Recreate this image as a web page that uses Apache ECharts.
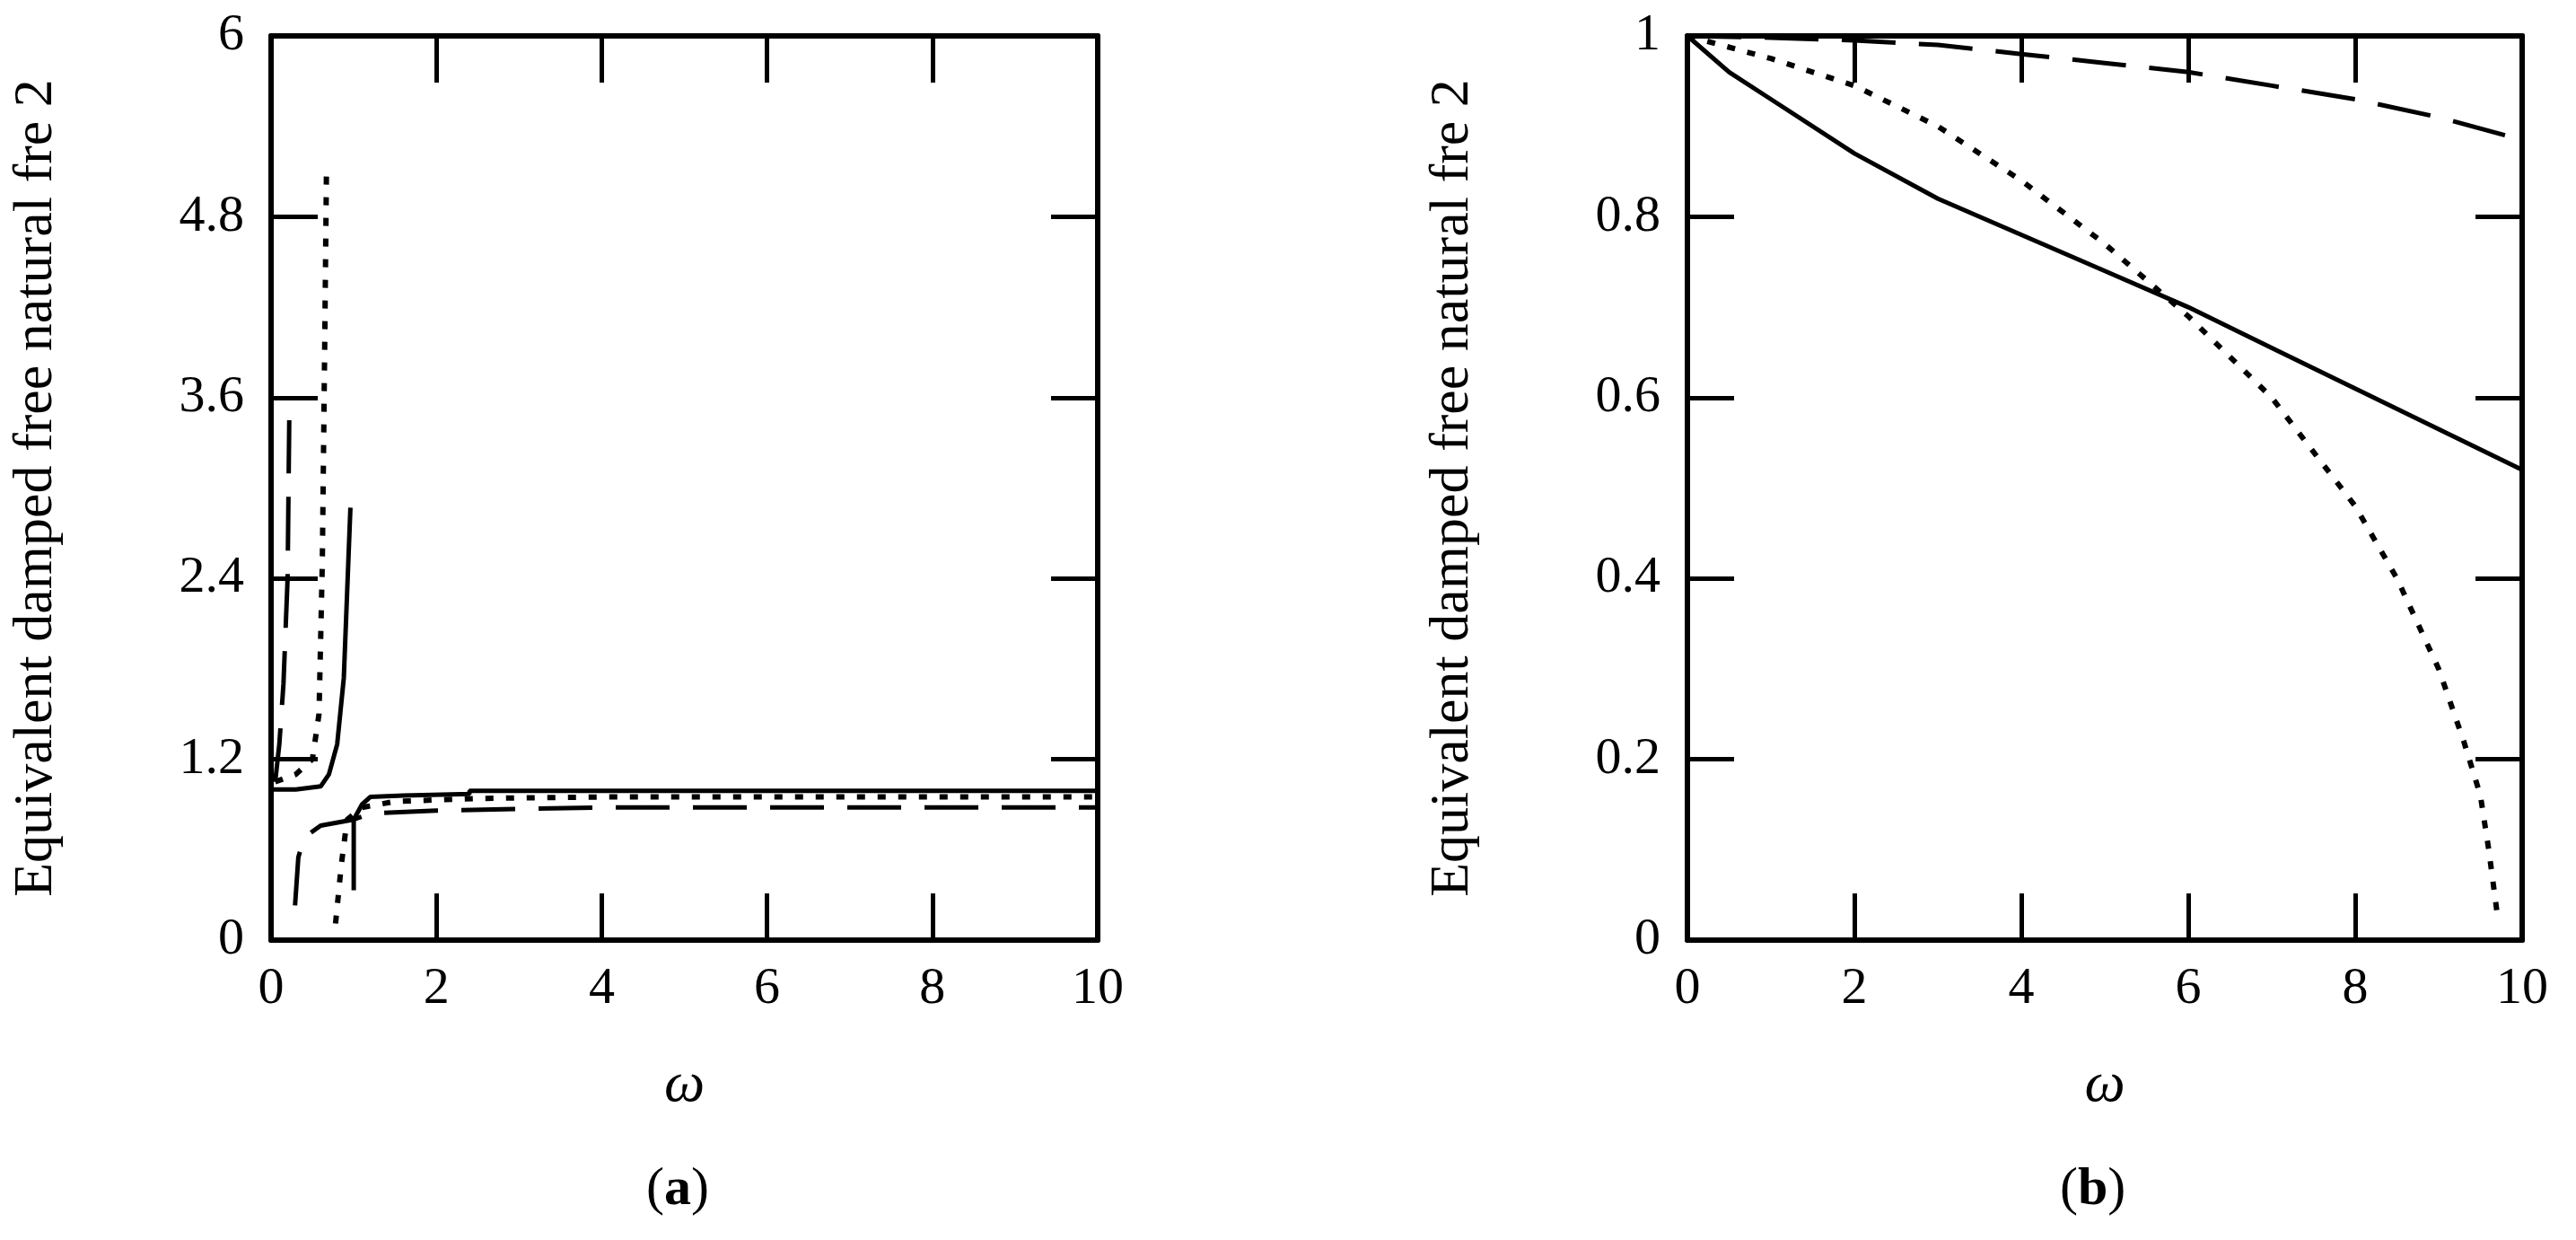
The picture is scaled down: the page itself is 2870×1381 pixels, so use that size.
<!DOCTYPE html>
<html><head><meta charset="utf-8">
<script src="https://cdn.jsdelivr.net/npm/echarts@6/dist/echarts.min.js"></script>
<style>html,body{margin:0;background:#fff}#c{width:2870px;height:1381px}</style>
</head><body><div id="c"></div>
<script>
// (a) panel: two branches per curve, null breaks them
const aSolid = [[0,1.0],[0.3,1.0],[0.6,1.02],[0.7,1.1],[0.8,1.3],[0.88,1.74],[0.96,2.87],null,
  [1.0,0.33],[1.0,0.8],[1.1,0.9],[1.2,0.95],[1.6,0.96],[2.4,0.97],[2.4,0.99],[10,0.99]];
const aDash = [[0.05,1.05],[0.1,1.3],[0.15,1.7],[0.2,2.4],[0.22,3.45],null,
  [0.29,0.23],[0.33,0.55],[0.4,0.68],[0.6,0.76],[1.0,0.8],[1.2,0.84],[2,0.86],[4,0.88],[10,0.88]];
const aDot = [[0.05,1.05],[0.3,1.1],[0.5,1.2],[0.58,1.5],[0.62,2.5],[0.65,4.0],[0.67,5.1],null,
  [0.78,0.11],[0.85,0.5],[0.92,0.8],[1.1,0.88],[1.5,0.92],[2.5,0.94],[4,0.95],[10,0.95]];
// (b) panel
const bSolid = [[0,1],[0.5,0.96],[1,0.93],[2,0.87],[3,0.82],[4,0.78],[5,0.74],[6,0.70],[7,0.655],[8,0.61],[9,0.565],[10,0.52]];
const bDash = [[0,1],[1,0.998],[2,0.995],[3,0.99],[4,0.98],[5,0.97],[6,0.96],[7,0.945],[8,0.93],[9,0.91],[10,0.885]];
const bDot = [[0,1],[1,0.975],[2,0.945],[3,0.9],[4,0.84],[5,0.77],[6,0.69],[7,0.6],[8,0.48],[8.5,0.4],[9,0.3],[9.3,0.22],[9.5,0.16],[9.6,0.1],[9.7,0.03]];
const xTicks = [0, 10, 2];
const yTicksA = [0, 6, 1.2];
const yTicksB = [0, 1, 0.2];

const font = 'Liberation Serif';
const chart = echarts.init(document.getElementById('c'));
const grids = [
  {left: 302, right: 1647, top: 40, bottom: 334},
  {left: 1880, right: 60, top: 40, bottom: 334}
];
function xAx(g, pos, show) {
  return {type: 'value', gridIndex: g, position: pos, min: xTicks[0], max: xTicks[1], interval: xTicks[2],
    axisLine: {show: true, onZero: false, lineStyle: {color: '#000', width: 6}},
    axisTick: {show: true, inside: true, length: 52, lineStyle: {color: '#000', width: 5}},
    axisLabel: {show: show, color: '#000', fontFamily: font, fontSize: 58, margin: 26},
    splitLine: {show: false},
    name: show ? 'ω' : '', nameLocation: 'middle', nameGap: 130,
    nameTextStyle: {fontFamily: font, fontStyle: 'italic', fontSize: 64, color: '#000'}};
}
function yAx(g, pos, show, t) {
  return {type: 'value', gridIndex: g, position: pos, min: t[0], max: t[1], interval: t[2],
    axisLine: {show: true, onZero: false, lineStyle: {color: '#000', width: 6}},
    axisTick: {show: true, inside: true, length: 52, lineStyle: {color: '#000', width: 5}},
    axisLabel: {show: show, color: '#000', fontFamily: font, fontSize: 58, margin: 30},
    splitLine: {show: false},
    name: show ? 'Equivalent damped free natural fre 2' : '', nameLocation: 'middle', nameGap: 230,
    nameTextStyle: {fontFamily: font, fontSize: 62, color: '#000'}};
}
function line(xi, yi, data, type) {
  const ls = {color: '#000', width: 5, type: type};
  if (type === 'dashed') { ls.type = [60, 26]; }
  if (type === 'dotted') { ls.type = [9, 14]; ls.width = 6; }
  return {type: 'line', xAxisIndex: xi, yAxisIndex: yi, data: data, showSymbol: false, lineStyle: ls, connectNulls: false, animation: false};
}
const capStyle = {fontFamily: font, fontSize: 60, fontWeight: 'normal', color: '#000',
  rich: {b: {fontFamily: font, fontSize: 60, fontWeight: 'bold', color: '#000'}}};
chart.setOption({
  animation: false,
  grid: grids,
  xAxis: [xAx(0, 'bottom', true), xAx(0, 'top', false), xAx(1, 'bottom', true), xAx(1, 'top', false)],
  yAxis: [yAx(0, 'left', true, yTicksA), yAx(0, 'right', false, yTicksA), yAx(1, 'left', true, yTicksB), yAx(1, 'right', false, yTicksB)],
  title: [
    {text: '({b|a})', left: 715, top: 1290, textStyle: capStyle},
    {text: '({b|b})', left: 2290, top: 1290, textStyle: capStyle}
  ],
  series: [
    line(0, 0, aSolid, 'solid'), line(0, 0, aDash, 'dashed'), line(0, 0, aDot, 'dotted'),
    line(2, 2, bSolid, 'solid'), line(2, 2, bDash, 'dashed'), line(2, 2, bDot, 'dotted')
  ]
});
</script></body></html>
